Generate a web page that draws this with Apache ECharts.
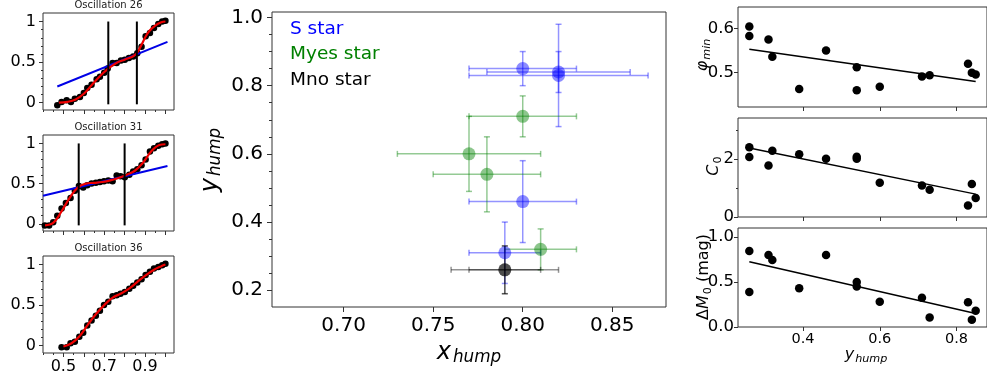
<!DOCTYPE html>
<html><head><meta charset="utf-8">
<script src="https://cdn.jsdelivr.net/npm/echarts@6/dist/echarts.min.js"></script>
<style>html,body{margin:0;padding:0;background:#fff}#c{width:987px;height:381px}</style>
</head><body><div id="c"></div><script>
// ---------- left panels: phased light curves ----------
const osc26DotX = [0.470,0.491,0.516,0.537,0.556,0.581,0.600,0.617,0.638,0.663,0.679,0.700,0.717,0.741,0.761,0.782,0.801,0.821,0.842,0.862,0.883,0.903,0.924,0.944,0.965,0.984,1.0];
const osc26DotY = [-0.03,0.01,0.03,0.01,0.05,0.07,0.12,0.18,0.22,0.29,0.32,0.37,0.42,0.49,0.49,0.52,0.53,0.55,0.57,0.61,0.69,0.82,0.86,0.92,0.97,1.0,1.01];
const osc26FitX = [0.478,0.52,0.56,0.60,0.64,0.68,0.72,0.76,0.80,0.84,0.86,0.88,0.90,0.92,0.95,0.98,1.0];
const osc26FitY = [0.0,0.01,0.04,0.11,0.22,0.33,0.42,0.49,0.53,0.57,0.61,0.70,0.80,0.88,0.95,0.99,1.0];
const osc26LinX = [0.47,1.01];
const osc26LinY = [0.20,0.75];
const osc26Bounds = [0.72,0.86];

const osc31DotX = [0.409,0.430,0.450,0.470,0.491,0.512,0.535,0.556,0.576,0.597,0.617,0.638,0.659,0.679,0.699,0.720,0.741,0.761,0.780,0.801,0.823,0.842,0.862,0.883,0.903,0.924,0.944,0.965,0.984,1.0];
const osc31DotY = [-0.02,-0.02,0.02,0.10,0.19,0.26,0.32,0.41,0.47,0.45,0.48,0.50,0.51,0.52,0.53,0.54,0.53,0.60,0.59,0.58,0.61,0.65,0.68,0.73,0.80,0.90,0.94,0.97,0.99,1.0];
const osc31FitX = [0.41,0.45,0.49,0.53,0.57,0.61,0.65,0.69,0.73,0.77,0.81,0.85,0.89,0.93,0.97,1.0];
const osc31FitY = [-0.02,0.01,0.15,0.32,0.45,0.50,0.51,0.52,0.54,0.57,0.61,0.66,0.76,0.90,0.98,0.99];
const osc31LinX = [0.40,1.01];
const osc31LinY = [0.35,0.72];
const osc31Bounds = [0.575,0.80];

const osc36DotX = [0.491,0.516,0.535,0.556,0.578,0.597,0.617,0.638,0.659,0.679,0.699,0.720,0.741,0.761,0.780,0.801,0.823,0.842,0.862,0.883,0.903,0.924,0.944,0.965,0.984,1.0];
const osc36DotY = [-0.02,-0.02,0.03,0.05,0.11,0.16,0.25,0.31,0.37,0.43,0.50,0.54,0.61,0.62,0.64,0.66,0.70,0.74,0.78,0.82,0.87,0.91,0.95,0.97,0.99,1.01];
const osc36FitX = [0.50,0.54,0.58,0.62,0.66,0.70,0.74,0.78,0.82,0.86,0.90,0.94,0.98,1.0];
const osc36FitY = [-0.01,0.03,0.12,0.26,0.39,0.50,0.59,0.64,0.70,0.78,0.86,0.93,0.98,1.0];

const oscTitles = ['Oscillation 26','Oscillation 31','Oscillation 36'];
const leftXTicks = [0.5,0.6,0.7,0.8,0.9,1.0];
const leftXMinor = [0.40,0.45,0.55,0.65,0.75,0.85,0.95];
const leftXLabels = [0.5,0.7,0.9];
const leftYTicks = [0,0.5,1];
const leftYMinor = [0.1,0.2,0.3,0.4,0.6,0.7,0.8,0.9];

// ---------- middle panel ----------
const sStarX = [0.80,0.82,0.82,0.80,0.79];
const sStarY = [0.85,0.84,0.83,0.46,0.31];
const sStarXErr = [0.03,0.04,0.05,0.03,0.02];
const sStarYErr = [0.05,0.06,0.15,0.12,0.09];
const myesX = [0.80,0.77,0.78,0.81];
const myesY = [0.71,0.60,0.54,0.32];
const myesXErr = [0.03,0.04,0.03,0.02];
const myesYErr = [0.06,0.11,0.11,0.06];
const mnoX = [0.79,0.79];
const mnoY = [0.26,0.26];
const mnoXErr = [0.03,0.02];
const mnoYErr = [0.07,0.07];
const midXTicks = [0.70,0.75,0.80,0.85];
const midYTicks = [0.2,0.4,0.6,0.8,1.0];
const midYMinor = [0.25,0.3,0.35,0.45,0.5,0.55,0.65,0.7,0.75,0.85,0.9,0.95];
const legendNames = ['S star','Myes star','Mno star'];

// ---------- right panels ----------
const yHump = [0.26,0.26,0.31,0.32,0.39,0.46,0.54,0.54,0.60,0.71,0.73,0.83,0.84,0.85];
const phiMin = [0.605,0.583,0.575,0.536,0.463,0.550,0.512,0.460,0.468,0.491,0.494,0.520,0.500,0.496];
const c0 = [2.41,2.07,1.78,2.29,2.17,2.01,2.08,2.01,1.18,1.09,0.94,0.40,1.14,0.66];
const dM0 = [0.845,0.39,0.80,0.745,0.43,0.80,0.50,0.45,0.28,0.325,0.105,0.275,0.08,0.18];
const phiFitX = [0.26,0.85], phiFitY = [0.553,0.480];
const c0FitX = [0.26,0.85], c0FitY = [2.38,0.79];
const dM0FitX = [0.26,0.85], dM0FitY = [0.726,0.15];
const rightXTicks = [0.4,0.6,0.8];

// ---------- helpers ----------
const FONT = 'DejaVu Sans';
const AX = '#333';
const zip = (a,b) => a.map((v,i)=>[v,b[i]]);
const grids = [
  {left:43, top:13, width:131, height:97},
  {left:43, top:135, width:131, height:96},
  {left:43, top:256, width:131, height:97},
  {left:272, top:12, width:394, height:295},
  {left:738, top:7, width:256, height:100},
  {left:738, top:118, width:256, height:99},
  {left:738, top:228, width:256, height:99}
].map(g => Object.assign(g, {show:true, borderColor:AX, borderWidth:1, backgroundColor:'transparent', containLabel:false}));

const xAxes = [], yAxes = [];
function axis(list, g, min, max, ticks, len, labels, fmt, lab, minor, minorLen) {
  const pos = list === xAxes ? 'bottom' : 'left';
  const idx = list.length;
  list.push({
    type:'value', gridIndex:g, min, max, position:pos,
    axisLine:{show:false, onZero:false},
    axisTick:{show:true, inside:false, length:len, customValues:ticks, lineStyle:{color:AX, width:1}},
    axisLabel:{show: labels.length>0, customValues:labels, formatter:fmt, margin:lab.margin,
      fontSize:lab.fontSize, fontFamily:FONT, color:'#000'},
    splitLine:{show:false}
  });
  if (minor && minor.length) {
    list.push({
      type:'value', gridIndex:g, min, max, position:pos,
      axisLine:{show:false, onZero:false},
      axisTick:{show:true, inside:false, length:minorLen, customValues:minor, lineStyle:{color:AX, width:1}},
      axisLabel:{show:false}, splitLine:{show:false}
    });
  }
  return idx;
}
const fmtLeftY = v => (Math.abs(v-0.5)<1e-6 ? '0.5' : String(Math.round(v)));
const fmt1 = v => v.toFixed(1);
const fmt2 = v => v.toFixed(2);

const series = [];
// left panels
const leftData = [
  {dx:osc26DotX, dy:osc26DotY, fx:osc26FitX, fy:osc26FitY, lx:osc26LinX, ly:osc26LinY, b:osc26Bounds},
  {dx:osc31DotX, dy:osc31DotY, fx:osc31FitX, fy:osc31FitY, lx:osc31LinX, ly:osc31LinY, b:osc31Bounds},
  {dx:osc36DotX, dy:osc36DotY, fx:osc36FitX, fy:osc36FitY}
];
leftData.forEach((d,i) => {
  const xi = axis(xAxes, i, 0.40, 1.042, leftXTicks, 4, i===2?leftXLabels:[], v=>v.toFixed(1), {margin:6, fontSize:16}, leftXMinor, 2);
  const yi = axis(yAxes, i, -0.09, 1.105, leftYTicks, 4, leftYTicks, fmtLeftY, {margin:7, fontSize:16}, leftYMinor, 2);
  series.push({type:'scatter', xAxisIndex:xi, yAxisIndex:yi, data:zip(d.dx,d.dy), symbolSize:6.5, itemStyle:{color:'#000', opacity:1}, z:2});
  if (d.lx) series.push({type:'line', xAxisIndex:xi, yAxisIndex:yi, data:zip(d.lx,d.ly), showSymbol:false, lineStyle:{color:'#0000e6', width:2}, z:3});
  series.push({type:'line', xAxisIndex:xi, yAxisIndex:yi, data:zip(d.fx,d.fy), smooth:0.4, showSymbol:false, lineStyle:{color:'#ee0000', width:2.2}, z:4});
  if (d.b) d.b.forEach(bx => series.push({type:'line', xAxisIndex:xi, yAxisIndex:yi, data:[[bx,-0.02],[bx,1.0]], showSymbol:false, lineStyle:{color:'#000', width:2}, z:5}));
});

// middle panel
const mx = axis(xAxes, 3, 0.66, 0.88, midXTicks, 5, midXTicks, fmt2, {margin:9, fontSize:20});
const my = axis(yAxes, 3, 0.151, 1.016, midYTicks, 5, midYTicks, fmt1, {margin:9, fontSize:20}, midYMinor, 3);
function errSeries(xs, ys, xe, ye, color) {
  const data = xs.map((v,i)=>[v, ys[i], xe[i], ye[i]]);
  series.push({
    type:'custom', xAxisIndex:mx, yAxisIndex:my, data, encode:{x:0, y:1}, z:2,
    renderItem:(params, api) => {
      const x = api.value(0), y = api.value(1), a = api.value(2), b = api.value(3);
      const l = api.coord([x-a,y]), r = api.coord([x+a,y]), t = api.coord([x,y+b]), bo = api.coord([x,y-b]);
      const st = {stroke:color, lineWidth:1.5, opacity:0.42};
      const c = 3;
      const ln = (x1,y1,x2,y2) => ({type:'line', shape:{x1,y1,x2,y2}, style:st});
      return {type:'group', children:[
        ln(l[0],l[1],r[0],r[1]), ln(t[0],t[1],bo[0],bo[1]),
        ln(l[0],l[1]-c,l[0],l[1]+c), ln(r[0],r[1]-c,r[0],r[1]+c),
        ln(t[0]-c,t[1],t[0]+c,t[1]), ln(bo[0]-c,bo[1],bo[0]+c,bo[1])
      ]};
    }
  });
  series.push({type:'scatter', xAxisIndex:mx, yAxisIndex:my, data:zip(xs,ys), symbolSize:13, itemStyle:{color, opacity:0.45}, z:3});
}
errSeries(sStarX, sStarY, sStarXErr, sStarYErr, '#0000ff');
errSeries(myesX, myesY, myesXErr, myesYErr, '#008000');
errSeries(mnoX, mnoY, mnoXErr, mnoYErr, '#000000');

// right panels
const rightSets = [
  {g:4, ys:phiMin, fx:phiFitX, fy:phiFitY, min:0.422, max:0.649, ticks:[0.5,0.6], fmt:fmt1, minor:[]},
  {g:5, ys:c0, fx:c0FitX, fy:c0FitY, min:0, max:3.42, ticks:[0,2], fmt:v=>String(Math.round(v)), minor:[1,3]},
  {g:6, ys:dM0, fx:dM0FitX, fy:dM0FitY, min:0, max:1.1, ticks:[0,0.5,1.0], fmt:fmt1, minor:[]}
];
rightSets.forEach((s,i) => {
  const xi = axis(xAxes, s.g, 0.2305, 0.8795, rightXTicks, 4, i===2?rightXTicks:[], fmt1, {margin:5, fontSize:14.5});
  const yi = axis(yAxes, s.g, s.min, s.max, s.ticks, 4, s.ticks, s.fmt, {margin:4, fontSize:16.5}, s.minor, 2);
  series.push({type:'scatter', xAxisIndex:xi, yAxisIndex:yi, data:zip(yHump, s.ys), symbolSize:8.5, itemStyle:{color:'#000', opacity:1}, z:2});
  series.push({type:'line', xAxisIndex:xi, yAxisIndex:yi, data:zip(s.fx, s.fy), showSymbol:false, lineStyle:{color:'#000', width:1.5}, z:3});
});

// ---------- text ----------
const mctx = document.createElement('canvas').getContext('2d');
function measure(t, fs, it) { mctx.font = (it?'italic ':'') + fs + 'px "' + FONT + '"'; return mctx.measureText(t).width; }
const K = 0.19;
function mathLabel(segs, cx, cy, rotated) {
  let pos = 0; const children = [];
  segs.forEach(s => {
    children.push({type:'text', x:pos, y:(s[3]||0) - K*s[1], silent:true,
      style:{text:s[0], fontSize:s[1], fontStyle:s[2]?'italic':'normal', fontFamily:FONT, fill:'#000', align:'left', verticalAlign:'middle'}});
    pos += measure(s[0], s[1], s[2]) + (s[4]||0);
  });
  if (rotated) return {type:'group', x:cx, y:cy + pos/2, rotation:Math.PI/2, children};
  return {type:'group', x:cx - pos/2, y:cy, children};
}
const graphics = [];
oscTitles.forEach((t,i) => graphics.push({type:'text', x:108.5, y:[5,127.3,248.3][i], silent:true,
  style:{text:t, fontSize:10, fontFamily:FONT, fill:'#222', align:'center', verticalAlign:'middle'}}));
['#0000ff','#008000','#000000'].forEach((c,i) => graphics.push({type:'text', x:290, y:[29,54,80][i], silent:true,
  style:{text:legendNames[i], fontSize:18.5, fontFamily:FONT, fill:c, align:'left', verticalAlign:'middle'}}));
graphics.push(mathLabel([['x',24,true,0,2],['hump',16.8,true,4]], 469, 357, false));
graphics.push(mathLabel([['y',24,true,0,2],['hump',16.8,true,4]], 215, 160, true));
graphics.push(mathLabel([['y',16,true,0,1],['hump',11.2,true,3]], 866, 358, false));
graphics.push(mathLabel([['φ',16,true,0,1],['min',11.2,true,3]], 706, 55, true));
graphics.push(mathLabel([['C',16,true,0,1],['0',11.2,false,3]], 717, 166, true));
graphics.push(mathLabel([['Δ',16,false],['M',16,true,0,1],['0',11.2,false,3],[' (mag)',16,false]], 707, 277, true));

const chart = echarts.init(document.getElementById('c'), null, {renderer:'canvas'});
chart.setOption({
  animation:false,
  backgroundColor:'#fff',
  grid:grids, xAxis:xAxes, yAxis:yAxes, series, graphic:graphics
});
</script></body></html>
